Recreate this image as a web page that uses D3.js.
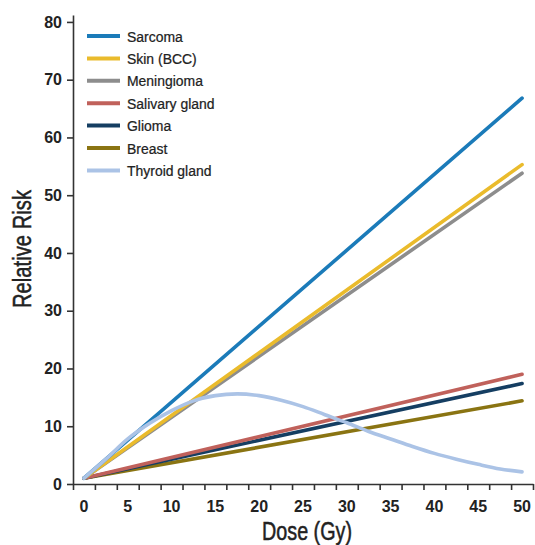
<!DOCTYPE html>
<html>
<head>
<meta charset="utf-8">
<script src="https://cdn.jsdelivr.net/npm/d3@7"></script>
<style>
  body { margin: 0; background: #fff; }
  #chart { width: 535px; height: 545px; }
  .axis text { font-family: "Liberation Sans", Arial, sans-serif; font-size: 16px; font-weight: bold; fill: #222; }
  .axis path, .axis line { stroke: #333; stroke-width: 1.6px; }
</style>
</head>
<body>
<div id="chart"></div>
<script>
const doses = [0, 2.5, 5, 7.5, 10, 12.5, 15, 17.5, 20, 22.5, 25, 27.5, 30, 32.5, 35, 37.5, 40, 42.5, 45, 47.5, 50];
const seriesNames = ["Sarcoma", "Skin (BCC)", "Meningioma", "Salivary gland", "Glioma", "Breast", "Thyroid gland"];
const colors = ["#1b7bb9", "#eabb2c", "#8d8d8d", "#c0615b", "#153e62", "#8a7412", "#abc3e6"];
// linear models: value at dose 0 and dose 50
const sarcoma = [1, 66.8];
const skin = [1, 55.3];
const meningioma = [1, 53.8];
const salivary = [1, 19];
const glioma = [1, 17.4];
const breast = [1, 14.4];
const thyroid = [1, 4.3, 7.8, 10.5, 12.7, 14.4, 15.3, 15.6, 15.3, 14.5, 13.4, 12.0, 10.6, 9.1, 7.8, 6.5, 5.3, 4.3, 3.4, 2.6, 2.1];
const xTickLabels = [0, 5, 10, 15, 20, 25, 30, 35, 40, 45, 50];
const yTickLabels = [0, 10, 20, 30, 40, 50, 60, 70, 80];

const margin = { top: 15, right: 2, bottom: 61, left: 73 },
      width = 535 - margin.left - margin.right,
      height = 545 - margin.top - margin.bottom;

const svg = d3.select("#chart")
    .append("svg")
    .attr("width", 535)
    .attr("height", 545)
    .append("g")
    .attr("transform", `translate(${margin.left},${margin.top})`);

const x = d3.scaleLinear().domain([-1.25, 51.25]).range([0, width]);
const y = d3.scaleLinear().domain([0, 81.2]).range([height, 0]);

const seriesData = [
    [0, 50].map((d, i) => ({ dose: d, rr: sarcoma[i] })),
    [0, 50].map((d, i) => ({ dose: d, rr: skin[i] })),
    [0, 50].map((d, i) => ({ dose: d, rr: meningioma[i] })),
    [0, 50].map((d, i) => ({ dose: d, rr: salivary[i] })),
    [0, 50].map((d, i) => ({ dose: d, rr: glioma[i] })),
    [0, 50].map((d, i) => ({ dose: d, rr: breast[i] })),
    doses.map((d, i) => ({ dose: d, rr: thyroid[i] }))
];

const line = d3.line()
    .x(d => x(d.dose))
    .y(d => y(d.rr))
    .curve(d3.curveMonotoneX);

// back-to-front, thyroid last so it sits on top
const drawOrder = [5, 4, 3, 2, 1, 0, 6];
svg.selectAll(".series")
    .data(drawOrder)
    .join("path")
    .attr("class", "series")
    .attr("d", i => line(seriesData[i]))
    .attr("fill", "none")
    .attr("stroke", i => colors[i])
    .attr("stroke-width", 3.6)
    .attr("stroke-linecap", "round");

// x axis: minor ticks sit between the labels
const xTicks = d3.range(-1.25, 51.3, 2.5);
const xAxis = svg.append("g")
    .attr("class", "axis")
    .attr("transform", `translate(0, ${height})`)
    .call(d3.axisBottom(x).tickValues(xTicks).tickSize(6).tickSizeOuter(0).tickFormat(""));
xAxis.selectAll(".label")
    .data(xTickLabels)
    .join("text")
    .attr("class", "label")
    .attr("x", d => x(d))
    .attr("y", 28)
    .attr("text-anchor", "middle")
    .text(d => d);

svg.append("g")
    .attr("class", "axis")
    .call(d3.axisLeft(y).tickValues(yTickLabels).tickSize(6).tickSizeOuter(0).tickPadding(5));

svg.append("text")
    .attr("transform", "rotate(-90)")
    .attr("x", -234)
    .attr("y", -42)
    .attr("text-anchor", "middle")
    .attr("textLength", 118)
    .attr("lengthAdjust", "spacingAndGlyphs")
    .style("font-family", '"Liberation Sans", Arial, sans-serif')
    .style("font-size", "25px")
    .attr("fill", "#222")
    .attr("stroke", "#222")
    .attr("stroke-width", 0.5)
    .text("Relative Risk");

svg.append("text")
    .attr("x", 307 - margin.left)
    .attr("y", height + 56)
    .attr("text-anchor", "middle")
    .attr("textLength", 90)
    .attr("lengthAdjust", "spacingAndGlyphs")
    .style("font-family", '"Liberation Sans", Arial, sans-serif')
    .style("font-size", "25px")
    .attr("fill", "#222")
    .attr("stroke", "#222")
    .attr("stroke-width", 0.5)
    .text("Dose (Gy)");

// legend
const legend = svg.append("g").attr("transform", "translate(14, 21)");
const rows = legend.selectAll("g")
    .data(seriesNames)
    .join("g")
    .attr("transform", (d, i) => `translate(0, ${i * 22.4})`);
rows.append("line")
    .attr("x1", 0).attr("x2", 33)
    .attr("stroke", (d, i) => colors[i])
    .attr("stroke-width", 4);
rows.append("text")
    .attr("transform", "translate(40,0) scale(0.9,1)")
    .attr("dy", "0.36em")
    .style("font-family", '"Liberation Sans", Arial, sans-serif')
    .style("font-size", "15.5px")
    .attr("fill", "#222")
    .attr("stroke", "#222")
    .attr("stroke-width", 0.25)
    .text(d => d);
</script>
</body>
</html>
